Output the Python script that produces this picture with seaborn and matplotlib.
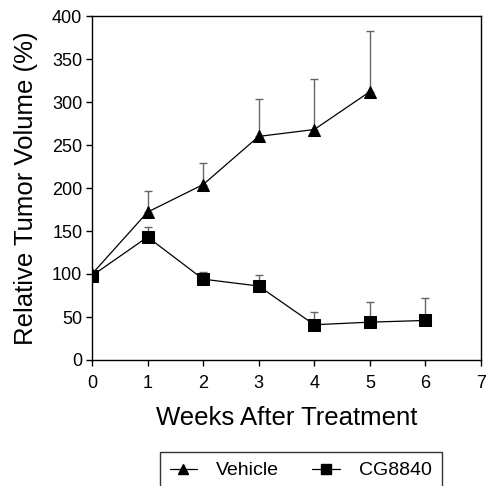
import matplotlib
matplotlib.use("Agg")
import matplotlib.pyplot as plt
import seaborn as sns
import pandas as pd
from matplotlib.lines import Line2D

weeks_vehicle = [0, 1, 2, 3, 4, 5]
vehicle_mean = [100, 172, 204, 260, 268, 312]
vehicle_err = [0, 25, 25, 43, 59, 70]

weeks_cg = [0, 1, 2, 3, 4, 5, 6]
cg_mean = [98, 143, 94, 86, 41, 44, 46]
cg_err = [0, 12, 8, 13, 15, 24, 26]

sns.set_style("white")
plt.rcParams['font.family'] = ['Liberation Sans', 'DejaVu Sans']
plt.rcParams['text.color'] = 'black'
plt.rcParams['axes.labelcolor'] = 'black'

df = pd.concat([
    pd.DataFrame({"week": weeks_vehicle, "value": vehicle_mean, "group": "Vehicle"}),
    pd.DataFrame({"week": weeks_cg, "value": cg_mean, "group": "CG8840"}),
])

fig = plt.figure(figsize=(4.87, 4.86), dpi=100)
ax = fig.add_axes([92/487, 1-360/486, (481-92)/487, (360-16)/486])

ax.errorbar(weeks_vehicle, vehicle_mean, yerr=[[0]*len(vehicle_err), vehicle_err],
            fmt='none', ecolor='#666666', elinewidth=1, capsize=3, capthick=1, zorder=2)
ax.errorbar(weeks_cg, cg_mean, yerr=[[0]*len(cg_err), cg_err],
            fmt='none', ecolor='#666666', elinewidth=1, capsize=3, capthick=1, zorder=2)

sns.lineplot(data=df, x="week", y="value", hue="group", style="group",
             markers={"Vehicle": "^", "CG8840": "s"}, dashes=False,
             palette={"Vehicle": "black", "CG8840": "black"},
             markersize=8, linewidth=0.9, markeredgecolor='black',
             ax=ax, zorder=3, legend=False)

ax.set_xlim(0, 7)
ax.set_ylim(0, 400)
ax.set_xticks(range(0, 8))
ax.set_yticks(range(0, 401, 50))
ax.tick_params(axis='both', which='both', direction='out', length=4, width=1,
               labelsize=13, bottom=True, left=True, colors='black', pad=3)
ax.tick_params(axis='x', pad=7)
for s in ax.spines.values():
    s.set_color('black')
    s.set_linewidth(1)
ax.set_xlabel("Weeks After Treatment", fontsize=18.5, labelpad=10, color='black')
ax.set_ylabel("Relative Tumor Volume (%)", fontsize=18.5, labelpad=10, color='black')

handles = [Line2D([], [], color='black', marker='^', markersize=7, linewidth=0.9),
           Line2D([], [], color='black', marker='s', markersize=7, linewidth=0.9)]
leg = fig.legend(handles, ["Vehicle", "CG8840"], ncol=2, loc='upper left',
                 bbox_to_anchor=(160/487, 1-452/486), fontsize=14,
                 frameon=True, fancybox=False, edgecolor='black',
                 handlelength=1.4, columnspacing=1.7, borderpad=0.5,
                 borderaxespad=0, handletextpad=1.0, labelcolor='black')
leg.get_frame().set_linewidth(1)

fig.savefig("out.png", dpi=100)
